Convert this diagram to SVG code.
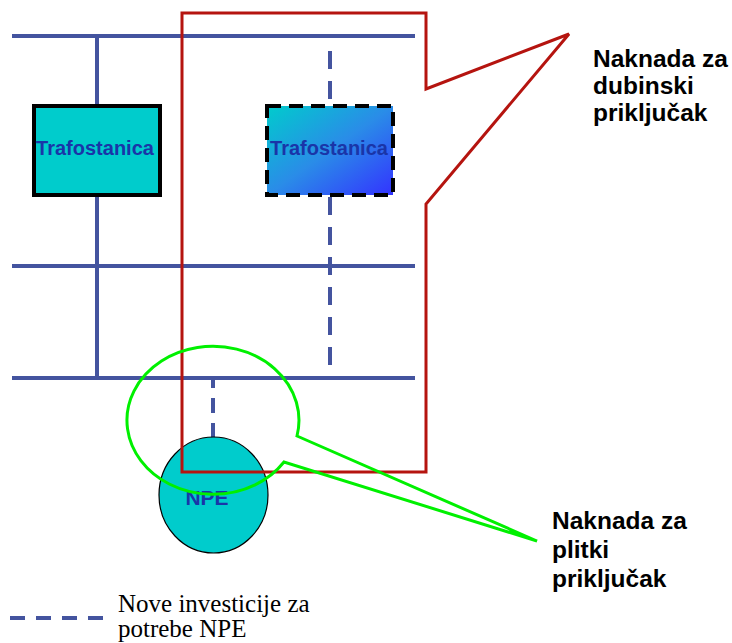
<svg xmlns="http://www.w3.org/2000/svg" width="732" height="643" viewBox="0 0 732 643">
<defs>
<linearGradient id="grad" x1="0" y1="0" x2="1" y2="1">
<stop offset="0" stop-color="#00CCCC"/>
<stop offset="0.5" stop-color="#2A8CE8"/>
<stop offset="1" stop-color="#3333FF"/>
</linearGradient>
<style>
.bus{stroke:#44549F;stroke-width:4;fill:none}
.new{stroke:#44549F;stroke-width:4;fill:none;stroke-dasharray:18 12}
.lbl{font-family:"Liberation Sans",Arial,sans-serif;font-weight:bold;font-size:24.5px;fill:#000}
.node{font-family:"Liberation Sans",Arial,sans-serif;font-weight:bold;fill:#1A35A8;text-anchor:middle}
.red{stroke:#B5140F;stroke-width:3;fill:none}
.green{stroke:#00F000;stroke-width:3;fill:none}
</style>
</defs>
<rect width="732" height="643" fill="#fff"/>
<g id="connectors">
<line class="bus" x1="12" y1="36" x2="415" y2="36"/>
<line class="bus" x1="12" y1="266" x2="415" y2="266"/>
<line class="bus" x1="12" y1="378" x2="415" y2="378"/>
<line class="bus" x1="97" y1="36" x2="97" y2="104"/>
<line class="bus" x1="97" y1="197" x2="97" y2="378"/>
<line class="new" x1="330" y1="51" x2="330" y2="104"/>
<line class="new" x1="330" y1="197" x2="330" y2="378"/>
<line class="new" x1="213" y1="438" x2="213" y2="378" style="stroke-dasharray:15 10"/>
</g>
<g id="trafo1">
<rect x="34" y="106" width="126" height="89" fill="#00CCCC" stroke="#000" stroke-width="4"/>
<text class="node" x="95" y="155" font-size="20">Trafostanica</text>
</g>
<g id="trafo2">
<rect x="267" y="106" width="126" height="89" fill="url(#grad)" stroke="#000" stroke-width="4" stroke-dasharray="14 8"/>
<text class="node" x="329" y="155" font-size="20">Trafostanica</text>
</g>
<g id="npe">
<ellipse cx="213.5" cy="495" rx="54.5" ry="58" fill="#00CCCC" stroke="#000" stroke-width="1.2"/>
<text class="node" x="207" y="505" font-size="21">NPE</text>
</g>
<g id="callout-dubinski">
<path class="red" d="M182 13 L426 13 L426 89 L569 34 L426 204 L426 472 L182 472 Z"/>
<text class="lbl"><tspan x="593" y="67">Naknada za</tspan><tspan x="593" y="94">dubinski</tspan><tspan x="593" y="121">priključak</tspan></text>
</g>
<g id="callout-plitki">
<path class="green" d="M297 436 L537 541 L284 462 A86 74 0 1 1 297 436 Z"/>
<text class="lbl"><tspan x="552" y="529">Naknada za</tspan><tspan x="552" y="558">plitki</tspan><tspan x="552" y="587">priključak</tspan></text>
</g>
<g id="legend">
<line x1="10" y1="618" x2="104" y2="618" stroke="#44549F" stroke-width="4" stroke-dasharray="15 11"/>
<text font-family="'Liberation Serif','Times New Roman',serif" font-size="25" fill="#000"><tspan x="118" y="612">Nove investicije za</tspan><tspan x="118" y="637">potrebe NPE</tspan></text>
</g>
</svg>
